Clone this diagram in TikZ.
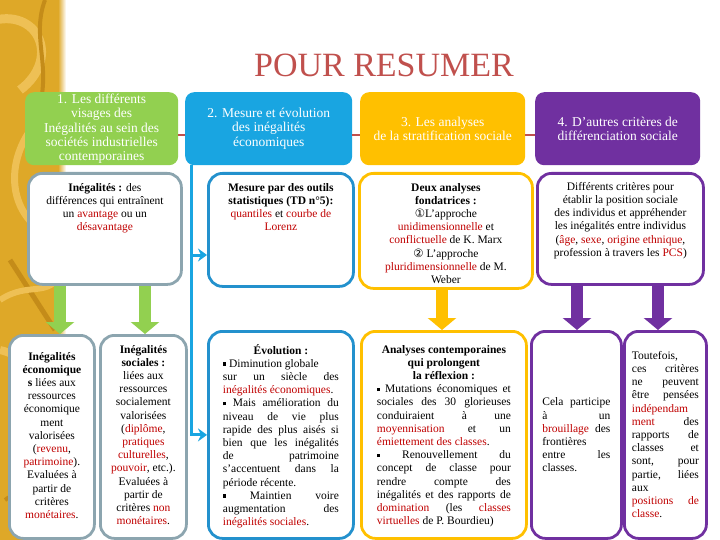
\documentclass[tikz,border=0pt]{standalone}
\usepackage{fontspec}
\setmainfont{Liberation Serif}
\newfontfamily\symfont{DejaVu Sans}
\usepackage{xcolor}
\usepackage{tikz}
\usetikzlibrary{positioning, arrows.meta, calc}
\definecolor{sesgreen}{RGB}{146,208,80}
\definecolor{sesblue}{RGB}{25,165,225}
\definecolor{sesblueline}{RGB}{35,145,205}
\definecolor{sesyellow}{RGB}{255,192,0}
\definecolor{sespurple}{RGB}{112,48,160}
\definecolor{sesgray}{RGB}{140,165,175}
\definecolor{sesred}{RGB}{192,0,0}
\definecolor{titlered}{RGB}{192,80,77}
\definecolor{gold}{RGB}{222,168,40}
\definecolor{goldhi}{RGB}{238,192,85}
\definecolor{golddk}{RGB}{196,140,25}
\newcommand\rd[1]{\textcolor{sesred}{#1}}
\newcommand\bul{\rule[1.6pt]{3.3pt}{3.3pt}}
\newcommand\bodyfont{\fontsize{11.5}{13.2}\selectfont\tolerance=10000 \hbadness=10000 }
\newcommand\headfont{\fontsize{13.5}{14.4}\selectfont}
\tikzset{
  headbox/.style={
    rectangle, rounded corners=9pt, inner sep=0pt, anchor=north west,
    text=white, align=center, font=\headfont
  },
  panel/.style={
    rectangle, rounded corners=14pt, line width=2.8pt, fill=white,
    inner sep=0pt, anchor=north west
  },
  bodytext/.style={align=center, font=\bodyfont, inner sep=0pt},
  justtext/.style={align=justify, font=\bodyfont, inner sep=0pt},
  bigarrow/.style={line width=12pt, -{Triangle[width=28pt,length=12pt]}},
  bline/.style={draw=sesblue, line width=3pt, -{Stealth[length=9pt,width=13pt,inset=3pt]}},
  redline/.style={draw=titlered, line width=2pt},
}

\begin{document}
\begin{tikzpicture}[x=1pt, y=-1pt]
  \useasboundingbox (0,0) rectangle (720,540);
  \begin{scope}
    \clip (0,0) rectangle (62,540);
    \fill[gold] (0,0) rectangle (62,540);
    \draw[goldhi, line width=9pt] (-5,20) .. controls (40,10) and (60,60) .. (20,90);
    \draw[golddk, line width=4pt] (45,0) .. controls (30,40) and (55,70) .. (35,120);
    \draw[goldhi, line width=7pt] (50,110) .. controls (10,140) and (0,200) .. (40,230);
    \draw[golddk, line width=5pt] (10,260) -- (55,330);
    \draw[goldhi, line width=6pt] (0,300) .. controls (30,280) and (50,300) .. (62,270);
    \draw[goldhi, line width=8pt] (0,350) .. controls (45,360) and (60,420) .. (15,460);
    \draw[goldhi, line width=6pt] (40,470) -- (40,540);
    \draw[golddk, line width=4pt] (5,500) .. controls (30,480) and (60,520) .. (55,540);
  \end{scope}
  \shade[left color=gold, right color=white] (58,0) rectangle (66,540);

  \node[font=\fontsize{34}{40}\selectfont, text=titlered, inner sep=0pt] (titre) at (384,65) {POUR RESUMER};

  \node[headbox, fill=sesgreen, minimum width=153pt, minimum height=73pt] (h1) at (25,92)
    {1. Les différents\\ visages des\\ Inégalités au sein des\\ sociétés industrielles\\ contemporaines};
  \node[headbox, fill=sesblue, minimum width=167pt, minimum height=73pt] (h2) at (185,92)
    {2. Mesure et évolution\\ des inégalités\\ économiques};
  \node[headbox, fill=sesyellow, minimum width=165pt, minimum height=73pt] (h3) at (360,92)
    {3. Les analyses\\ de la stratification sociale};
  \node[headbox, fill=sespurple, minimum width=165pt, minimum height=73pt] (h4) at (535,92)
    {4. D’autres critères de\\ différenciation sociale};
  \coordinate (rl) at (0,135);
  \draw[redline] (h1.east |- rl) -- (h2.west |- rl);
  \draw[redline] (h2.east |- rl) -- (h3.west |- rl);
  \draw[redline] (h3.east |- rl) -- (h4.west |- rl);

  \node[panel, draw=sesgray, minimum width=153pt, minimum height=111pt] (r2a) at (27,172) {};
  \node[panel, draw=sesblueline, minimum width=145pt, minimum height=113pt] (r2b) at (207,172) {};
  \node[panel, draw=sesyellow, minimum width=173pt, minimum height=115pt] (r2c) at (358,172) {};
  \node[panel, draw=sespurple, minimum width=166pt, minimum height=111pt] (r2d) at (536,172) {};

  \node[panel, draw=sesgray, minimum width=85pt, minimum height=203pt] (r3a) at (8,334) {};
  \node[panel, draw=sesgray, minimum width=86pt, minimum height=203pt] (r3b) at (99,334) {};
  \node[panel, draw=sesblueline, minimum width=145pt, minimum height=207pt] (r3c) at (207,330) {};
  \node[panel, draw=sesyellow, minimum width=165pt, minimum height=207pt] (r3d) at (360,330) {};
  \node[panel, draw=sespurple, minimum width=90pt, minimum height=207pt] (r3e) at (530,330) {};
  \node[panel, draw=sespurple, minimum width=82pt, minimum height=207pt] (r3f) at (623,330) {};

  \coordinate (ga) at (60,0);
  \coordinate (gb) at (145,0);
  \coordinate (ya) at (442,0);
  \coordinate (pa) at (577,0);
  \coordinate (pb) at (658,0);
  \draw[bigarrow, sesgreen] (r2a.south -| ga) -- (r3a.north -| ga);
  \draw[bigarrow, sesgreen] (r2a.south -| gb) -- (r3b.north -| gb);
  \draw[bigarrow, sesyellow] (r2c.south -| ya) -- (r3d.north -| ya);
  \draw[bigarrow, sespurple] (r2d.south -| pa) -- (r3e.north -| pa);
  \draw[bigarrow, sespurple] (r2d.south -| pb) -- (r3f.north -| pb);

  \coordinate (bl) at (191,0);
  \coordinate (ba) at (0,255);
  \draw[bline] (h2.south -| bl) |- (r3c.west);
  \draw[bline] (bl |- ba) -- (r2b.west |- ba);

  \node[bodytext, below=11pt of r2a.north] (t2a)
    {\textbf{Inégalités :} des\\ différences qui entraînent\\ un \rd{avantage} ou un\\ \rd{désavantage}};
  \node[bodytext, below=11pt of r2b.north] (t2b)
    {\textbf{Mesure par des outils}\\ \textbf{statistiques (TD n°5):}\\ \rd{quantiles} et \rd{courbe de}\\ \rd{Lorenz}};
  \node[bodytext, below=11pt of r2c.north] (t2c)
    {\textbf{Deux analyses}\\ \textbf{fondatrices :}\\ {\symfont ①}L’approche\\ \rd{unidimensionnelle} et\\
     \rd{conflictuelle} de K. Marx\\ {\symfont ②} L’approche\\ \rd{pluridimensionnelle} de M.\\ Weber};
  \node[bodytext, below=10pt of r2d.north] (t2d)
    {Différents critères pour\\ établir la position sociale\\ des individus et appréhender\\
     les inégalités entre individus\\ (\rd{âge}, \rd{sexe}, \rd{origine ethnique},\\ profession à travers les \rd{PCS})};

  \node[bodytext, below=18pt of r3a.north] (t3a)
    {\textbf{Inégalités}\\ \textbf{économique}\\ \textbf{s} liées aux\\ ressources\\ économique\\ ment\\ valorisées\\
     (\rd{revenu},\\ \rd{patrimoine}).\\ Evaluées à\\ partir de\\ critères\\ \rd{monétaires}.};
  \node[bodytext, below=11pt of r3b.north] (t3b)
    {\textbf{Inégalités}\\ \textbf{sociales :}\\ liées aux\\ ressources\\ socialement\\ valorisées\\
     (\rd{diplôme},\\ \rd{pratiques}\\ \rd{culturelles},\\ \rd{pouvoir}, etc.).\\ Evaluées à\\ partir de\\
     critères \rd{non}\\ \rd{monétaires}.};
  \node[justtext, text width=116pt, below=14pt of r3c.north] (t3c)
    {{\centering\textbf{Évolution :}\par}
     \bul\ Diminution globale\hfill\break
     sur un siècle des\break
     \rd{inégalités économiques}.\hfill\break
     \bul\ Mais amélioration du\break
     niveau de vie plus\break
     rapide des plus aisés si\break
     bien que les inégalités\break
     de patrimoine\break
     s’accentuent dans la\break
     période récente.\hfill\break
     \bul\ Maintien voire\break
     augmentation des\break
     \rd{inégalités sociales}.};
  \node[justtext, text width=134pt, below=15pt of r3d.north] (t3d)
    {{\centering\textbf{Analyses contemporaines\\ qui prolongent\\ la réflexion :}\par}
     \bul\ Mutations économiques et\break
     sociales des 30 glorieuses\break
     conduiraient à une\break
     \rd{moyennisation} et un\break
     \rd{émiettement des classes}.\hfill\break
     \bul\ Renouvellement du\break
     concept de classe pour\break
     rendre compte des\break
     inégalités et des rapports de\break
     \rd{domination} (les \rd{classes}\break
     \rd{virtuelles} de P. Bourdieu)};
  \node[justtext, text width=68pt] (t3e) at (r3e)
    {Cela participe\break
     à un\break
     \rd{brouillage} des\break
     frontières\hfill\break
     entre les\break
     classes.};
  \node[justtext, text width=67pt, below=21pt of r3f.north] (t3f)
    {Toutefois,\hfill\break
     ces critères\break
     ne peuvent\break
     être pensées\break
     \rd{indépendam}\hfill\break
     \rd{ment} des\break
     rapports de\break
     classes et\break
     sont, pour\break
     partie, liées\break
     aux\hfill\break
     \rd{positions de}\break
     \rd{classe}.};
\end{tikzpicture}
\end{document}
